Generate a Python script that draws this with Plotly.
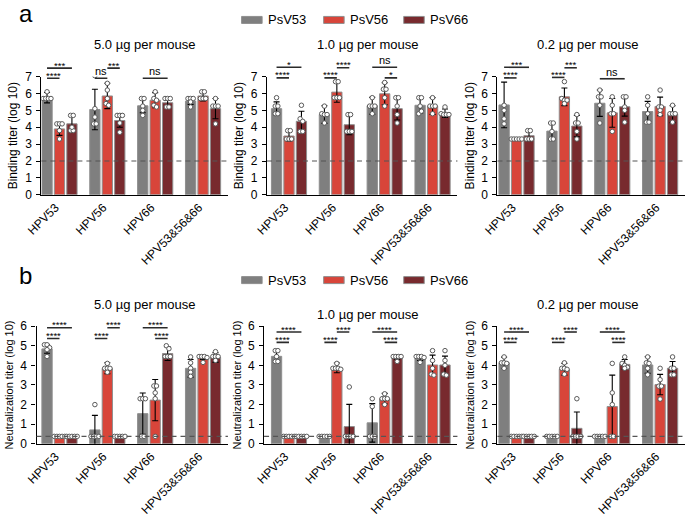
import numpy as np
import plotly.graph_objects as go

W, H = 685, 517

categories = ["HPV53", "HPV56", "HPV66", "HPV53&56&66"]
series = ["PsV53", "PsV56", "PsV66"]
colors = ["#7f7f7f", "#d8453a", "#782a2e"]
dose_titles = ["5.0 µg per mouse", "1.0 µg per mouse", "0.2 µg per mouse"]

# ---------------- panel a: binding titer (log 10), [category][series] ----------------
bind_5_0_mean = [[5.75, 3.90, 4.20], [5.05, 5.85, 4.40], [5.27, 5.60, 5.45], [5.55, 5.85, 5.10]]
bind_5_0_sd = [[0.31, 0.38, 0.46], [1.20, 0.75, 0.40], [0.41, 0.45, 0.25], [0.20, 0.30, 0.60]]
bind_5_0_pts = [
    [[6.1, 5.7, 5.7, 5.7, 5.7], [4.2, 4.2, 4.2, 3.8, 3.3], [4.7, 4.7, 3.8, 3.8, 4.0]],
    [[7.05, 5.1, 4.6, 4.2, 4.2], [6.6, 6.2, 5.7, 5.4, 5.3], [4.7, 4.7, 4.7, 4.25, 3.7]],
    [[5.7, 5.7, 5.25, 4.7, 5.0], [6.1, 5.7, 5.6, 5.3, 5.2], [5.7, 5.7, 5.7, 5.2, 5.2]],
    [[5.7, 5.7, 5.7, 5.5, 5.2], [6.1, 6.1, 5.7, 5.7, 5.7], [5.7, 5.25, 5.25, 5.25, 4.2]],
]
bind_1_0_mean = [[5.10, 3.48, 4.35], [4.75, 6.08, 4.15], [5.27, 5.98, 5.10], [5.30, 5.25, 4.83]]
bind_1_0_sd = [[0.40, 0.30, 0.60], [0.52, 0.60, 0.60], [0.50, 0.65, 0.67], [0.47, 0.50, 0.25]]
bind_1_0_pts = [
    [[5.75, 5.25, 5.25, 4.8, 4.8], [3.8, 3.8, 3.3, 3.3, 3.3], [5.3, 4.5, 4.35, 3.75, 3.75]],
    [[5.25, 4.8, 4.75, 4.75, 4.25], [6.7, 6.7, 5.75, 5.75, 5.75], [4.75, 4.75, 3.75, 3.75, 3.75]],
    [[5.75, 5.25, 5.25, 5.25, 4.8], [6.65, 6.25, 6.25, 5.75, 5.25], [5.75, 5.75, 5.25, 4.75, 4.25]],
    [[5.75, 5.75, 5.25, 4.8, 4.95], [5.75, 5.25, 5.25, 5.25, 4.8], [5.2, 4.8, 4.75, 4.75, 4.75]],
]
bind_0_2_mean = [[5.32, 3.30, 3.50], [3.77, 5.80, 4.07], [5.42, 4.85, 5.21], [4.93, 5.23, 4.77]]
bind_0_2_sd = [[1.35, 0.02, 0.30], [0.50, 0.52, 0.63], [0.78, 0.85, 0.55], [0.60, 0.55, 0.50]]
bind_0_2_pts = [
    [[7.6, 5.3, 5.0, 4.5, 4.2], [3.3, 3.3, 3.3, 3.3, 3.3], [3.8, 3.8, 3.3, 3.3, 3.3]],
    [[4.25, 4.25, 3.75, 3.3, 3.3], [6.7, 5.7, 5.6, 5.6, 5.4], [4.75, 4.25, 4.25, 3.75, 3.3]],
    [[6.2, 5.8, 5.8, 5.3, 4.25], [5.8, 5.3, 4.8, 4.8, 3.75], [5.8, 5.8, 5.2, 5.0, 4.3]],
    [[5.8, 5.3, 4.8, 4.3, 4.3], [6.2, 5.2, 5.2, 5.0, 4.75], [5.3, 4.8, 4.8, 4.8, 4.3]],
]

# ---------------- panel b: neutralization titer (log 10) ----------------
LOD = 0.38
neut_5_0_mean = [[4.84, 0.38, 0.38], [0.71, 3.85, 0.38], [1.54, 2.23, 4.60], [3.85, 4.40, 4.40]]
neut_5_0_sd = [[0.22, 0.0, 0.0], [0.74, 0.28, 0.0], [1.05, 1.05, 0.35], [0.45, 0.10, 0.25]]
neut_5_0_pts = [
    [[5.05, 5.05, 4.9, 4.8, 4.45], [0.38] * 5, [0.38] * 5],
    [[2.0, 0.38, 0.38, 0.38, 0.38], [4.1, 3.85, 3.85, 3.85, 3.65], [0.38] * 5],
    [[2.3, 2.3, 2.3, 0.38, 0.38], [2.95, 2.95, 2.6, 2.3, 0.38], [5.0, 4.85, 4.45, 4.45, 4.45]],
    [[4.43, 4.13, 3.85, 3.65, 3.44], [4.45, 4.45, 4.45, 4.4, 4.15], [4.7, 4.45, 4.45, 4.45, 4.25]],
]
neut_1_0_mean = [[4.46, 0.38, 0.38], [0.38, 3.87, 0.88], [1.07, 2.30, 4.42], [4.35, 4.02, 4.02]]
neut_1_0_sd = [[0.28, 0.0, 0.0], [0.0, 0.25, 1.13], [0.98, 0.27, 0.10], [0.10, 0.50, 0.45]]
neut_1_0_pts = [
    [[4.75, 4.75, 4.45, 4.2, 4.2], [0.38] * 5, [0.38] * 5],
    [[0.38] * 5, [4.1, 3.85, 3.85, 3.85, 3.8], [2.9, 0.38, 0.38, 0.38, 0.38]],
    [[2.3, 1.9, 0.38, 0.38, 0.38], [2.55, 2.3, 2.3, 2.3, 2.0], [4.45, 4.45, 4.45, 4.45, 4.2]],
    [[4.45, 4.45, 4.45, 4.4, 4.15], [4.75, 4.25, 3.85, 3.55, 3.5], [4.75, 4.25, 4.0, 3.55, 3.5]],
]
neut_0_2_mean = [[4.13, 0.38, 0.38], [0.38, 3.80, 0.79], [0.38, 1.90, 4.05], [4.02, 3.02, 3.85]]
neut_0_2_sd = [[0.29, 0.0, 0.0], [0.0, 0.30, 0.83], [0.0, 1.60, 0.25], [0.42, 0.52, 0.35]]
neut_0_2_pts = [
    [[4.43, 4.13, 4.13, 4.1, 3.85], [0.38] * 5, [0.38] * 5],
    [[0.38] * 5, [4.13, 3.85, 3.85, 3.8, 3.55], [2.3, 0.38, 0.38, 0.38, 0.38]],
    [[0.38] * 5, [4.1, 2.6, 2.0, 0.38, 0.38], [4.43, 4.1, 4.0, 3.9, 3.85]],
    [[4.43, 4.13, 4.1, 3.85, 3.52], [3.85, 3.27, 2.94, 2.94, 2.28], [4.43, 3.85, 3.85, 3.52, 3.52]],
]

# significance brackets: (panel, category, bar i, bar j, y level, label)
brackets = [
    (0, 0, 0, 1, 6.9, "****"), (0, 0, 0, 2, 7.5, "***"),
    (0, 1, 0, 1, 6.9, "ns"), (0, 1, 1, 2, 7.5, "***"),
    (0, 2, 0, 2, 6.9, "ns"),
    (1, 0, 0, 1, 6.92, "****"), (1, 0, 0, 2, 7.55, "*"),
    (1, 1, 0, 1, 6.92, "****"), (1, 1, 1, 2, 7.52, "****"),
    (1, 2, 0, 2, 7.55, "ns"), (1, 2, 1, 2, 6.92, "*"),
    (2, 0, 0, 1, 6.92, "****"), (2, 0, 0, 2, 7.55, "***"),
    (2, 1, 0, 1, 6.95, "****"), (2, 1, 1, 2, 7.52, "***"),
    (2, 2, 0, 2, 6.87, "ns"),
    (3, 0, 0, 1, 5.37, "****"), (3, 0, 0, 2, 5.92, "****"),
    (3, 1, 0, 1, 5.37, "****"), (3, 1, 1, 2, 5.92, "****"),
    (3, 2, 0, 2, 5.92, "****"), (3, 2, 1, 2, 5.37, "****"),
    (4, 0, 0, 1, 5.17, "****"), (4, 0, 0, 2, 5.70, "****"),
    (4, 1, 0, 1, 5.17, "****"), (4, 1, 1, 2, 5.70, "****"),
    (4, 2, 0, 2, 5.70, "****"), (4, 2, 1, 2, 5.17, "****"),
    (5, 0, 0, 1, 5.17, "****"), (5, 0, 0, 2, 5.70, "****"),
    (5, 1, 0, 1, 5.17, "****"), (5, 1, 1, 2, 5.70, "****"),
    (5, 2, 0, 2, 5.70, "****"), (5, 2, 1, 2, 5.17, "****"),
]

panels = [
    (bind_5_0_mean, bind_5_0_sd, bind_5_0_pts),
    (bind_1_0_mean, bind_1_0_sd, bind_1_0_pts),
    (bind_0_2_mean, bind_0_2_sd, bind_0_2_pts),
    (neut_5_0_mean, neut_5_0_sd, neut_5_0_pts),
    (neut_1_0_mean, neut_1_0_sd, neut_1_0_pts),
    (neut_0_2_mean, neut_0_2_sd, neut_0_2_pts),
]

# ---------------- layout constants ----------------
FONT = "Arial, Liberation Sans, sans-serif"
PX_PER_UNIT = 49.0
X_END = 3.52
x_dom_px = [(26, 217), (257, 452), (493, 685), (21, 217), (254, 452), (493, 685)]
y_dom_px = [(71.5, 193), (328, 449)]
offsets = [-0.26, 0.0, 0.26]
BAR_W = 0.215
title_pos_px = [(132, 39), (360, 39), (585, 39), (132, 306), (360, 316), (585, 306)]


def swarm(vals, thr=0.2, dx=0.055):
    vals = np.asarray(vals, dtype=float)
    order = np.argsort(-vals, kind="stable")
    clusters = []
    for idx in order:
        if clusters and abs(vals[clusters[-1][0]] - vals[idx]) <= thr:
            clusters[-1].append(idx)
        else:
            clusters.append([idx])
    offs = np.zeros(len(vals))
    for c in clusters:
        n = len(c)
        for k, idx in enumerate(sorted(c)):
            offs[idx] = (k - (n - 1) / 2) * dx
    return offs


fig = go.Figure()
layout = {}
shapes = []
annotations = []

for p, (means, sds, pts) in enumerate(panels):
    sfx = "" if p == 0 else str(p + 1)
    xa, ya = "x" + sfx, "y" + sfx
    top = p < 3
    x0, x1 = x_dom_px[p]
    y0, y1 = y_dom_px[0] if top else y_dom_px[1]
    ymax = 7 if top else 6
    layout["xaxis" + sfx] = dict(
        domain=[x0 / W, x1 / W], range=[X_END - (x1 - x0) / PX_PER_UNIT, X_END],
        anchor=ya, tickvals=[0, 1, 2, 3], ticktext=categories, tickangle=-45,
        showline=True, linecolor="black", linewidth=1.2, ticks="", ticklabelshift=-4,
        showgrid=False, zeroline=False,
        tickfont=dict(family=FONT, size=12, color="black"), fixedrange=True,
    )
    layout["yaxis" + sfx] = dict(
        domain=[1 - y1 / H, 1 - y0 / H], range=[0, ymax], anchor=xa, dtick=1,
        showline=True, linecolor="black", linewidth=1.2, ticks="outside", ticklen=4,
        tickcolor="black", showgrid=False, zeroline=False, ticklabelstandoff=2,
        tickfont=dict(family=FONT, size=12, color="black"),
        title=dict(text="Binding titer (log 10)" if top else "Neutralization titer (log 10)",
                   font=dict(family=FONT, size=12 if top else 11, color="black"), standoff=4),
        fixedrange=True,
    )
    for j in range(3):
        xs = [c + offsets[j] for c in range(4)]
        fig.add_trace(go.Bar(
            x=xs, y=[means[c][j] for c in range(4)], width=BAR_W,
            marker=dict(color=colors[j], line=dict(color="#8f8f8f", width=1)),
            error_y=dict(type="data", array=[sds[c][j] for c in range(4)],
                         color="black", thickness=1.1, width=3),
            xaxis=xa, yaxis=ya, showlegend=False, name=series[j],
        ))
    px_, py_ = [], []
    for c in range(4):
        for j in range(3):
            v = pts[c][j]
            o = swarm(v)
            px_ += [c + offsets[j] + oo for oo in o]
            py_ += list(v)
    fig.add_trace(go.Scatter(
        x=px_, y=py_, mode="markers", xaxis=xa, yaxis=ya, showlegend=False,
        marker=dict(size=4.5, color="white", line=dict(color="#5a5a5a", width=1)),
        hoverinfo="y",
    ))
    # detection-limit line
    shapes.append(dict(type="line", xref=xa + " domain", yref=ya, x0=0, x1=1,
                       y0=2.0 if top else LOD, y1=2.0 if top else LOD,
                       line=dict(color="#555555", width=1.2, dash="5px,4px")))
    tx, ty = title_pos_px[p]
    annotations.append(dict(text=dose_titles[p % 3], x=tx / W, y=1 - ty / H, xref="paper", yref="paper",
                            xanchor="center", yanchor="middle", showarrow=False,
                            font=dict(family=FONT, size=13, color="black")))

for (p, c, i, j, lvl, lab) in brackets:
    sfx = "" if p == 0 else str(p + 1)
    ymax = 7 if p < 3 else 6
    xa = "x" + sfx
    yd = "y" + sfx + " domain"
    shapes.append(dict(type="line", xref=xa, yref=yd, x0=c + offsets[i], x1=c + offsets[j],
                       y0=lvl / ymax, y1=lvl / ymax,
                       line=dict(color="#2a2a2a", width=1.6)))
    annotations.append(dict(text=lab, x=c + (offsets[i] + offsets[j]) / 2, y=lvl / ymax,
                            xref=xa, yref=yd, showarrow=False, xanchor="center", yanchor="middle",
                            yshift=7 if lab == "ns" else 3,
                            font=dict(family=FONT, size=11 if lab == "ns" else 9.5, color="black")))

# legends (one per row)
legend_swatch_px = [(231, 252), (315, 336), (397, 418)]
legend_text_px = [256, 340, 422]
for ly in [13.3, 280.7]:
    for j in range(3):
        sx0, sx1 = legend_swatch_px[j]
        shapes.append(dict(type="rect", xref="paper", yref="paper", x0=sx0 / W, x1=sx1 / W,
                           y0=1 - (ly + 3.6) / H, y1=1 - (ly - 3.6) / H,
                           fillcolor=colors[j], line=dict(color="#8f8f8f", width=1)))
        annotations.append(dict(text=series[j], x=legend_text_px[j] / W, y=1 - ly / H,
                                xref="paper", yref="paper", xanchor="left", yanchor="middle",
                                showarrow=False, font=dict(family=FONT, size=13, color="black")))

# panel letters
for lab, ly in [("a", 7), ("b", 276)]:
    annotations.append(dict(text=lab, x=1 / W, y=1 - ly / H, xref="paper", yref="paper",
                            xanchor="left", yanchor="middle", showarrow=False,
                            font=dict(family=FONT, size=24, color="black")))

fig.update_layout(
    width=W, height=H, margin=dict(l=0, r=0, t=0, b=0),
    paper_bgcolor="white", plot_bgcolor="white", showlegend=False,
    barmode="overlay", font=dict(family=FONT, color="black"),
    shapes=shapes, annotations=annotations, **layout,
)
fig.write_html("out.html", config={"displayModeBar": False},
               post_script="document.body.style.margin='0';document.body.style.padding='0';")
